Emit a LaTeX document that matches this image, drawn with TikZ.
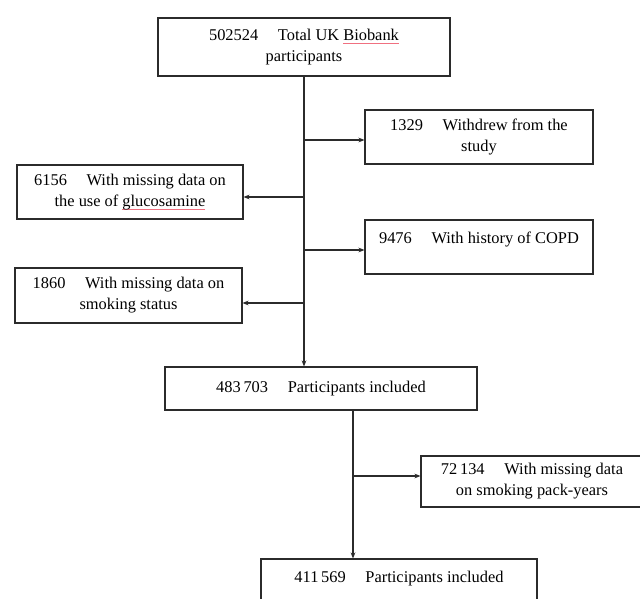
\documentclass[tikz,border=0pt]{standalone}
\usepackage{fontspec}
\setmainfont{Liberation Serif}
\usetikzlibrary{arrows.meta}
\definecolor{lineC}{HTML}{2B2B2B}
\definecolor{txtC}{HTML}{000000}
\definecolor{spellC}{HTML}{F07080}
\newcommand\spellul[1]{\setbox0\hbox{#1}\rlap{\textcolor{spellC}{\rule[-0.22em]{\wd0}{0.6pt}}}\box0}
\begin{document}
\begin{tikzpicture}[x=0.75pt,y=-0.75pt,
  boxst/.style={draw=lineC,line width=0.8pt,rectangle,inner sep=0pt,align=center,
    text=txtC,font=\fontsize{12.3pt}{15.75pt}\selectfont},
  arr/.style={draw=lineC,line width=0.8pt,-{Stealth[length=4.5pt,width=3.5pt]}}]
\useasboundingbox (0,0) rectangle (640,599);
\clip (0,0) rectangle (640,599);
\node[boxst,minimum width=219pt,minimum height=43.5pt] (top) at (304,47)
  {\raisebox{-1.5pt}{502524\hspace{1.2em}Total UK \spellul{Biobank}}\\\raisebox{-1.5pt}{participants}};
\node[boxst,minimum width=171pt,minimum height=40.5pt] (wd) at (479,137)
  {\raisebox{-1.5pt}{1329\hspace{1.2em}Withdrew from the}\\\raisebox{-1.5pt}{study}};
\node[boxst,minimum width=169.5pt,minimum height=40.5pt] (gl) at (130,192)
  {\raisebox{-1.5pt}{6156\hspace{1.2em}With missing data on}\\\raisebox{-1.5pt}{the use of \spellul{glucosamine}}};
\node[boxst,minimum width=171pt,minimum height=40.5pt] (copd) at (479,247)
  {\raisebox{-1.5pt}{9476\hspace{1.2em}With history of COPD}\\\mbox{}};
\node[boxst,minimum width=170.25pt,minimum height=41.25pt] (sm) at (128.5,295.5)
  {1860\hspace{1.2em}With missing data on\\smoking status};
\node[boxst,minimum width=234pt,minimum height=32.25pt] (inc1) at (321,388.5)
  {483\,703\hspace{1.2em}Participants included};
\node[boxst,minimum width=166.5pt,minimum height=38.25pt] (pk) at (532,481.5)
  {72\,134\hspace{1.2em}With missing data\\on smoking pack-years};
\node[boxst,minimum width=207pt,minimum height=40.5pt] (inc2) at (399,586)
  {\raisebox{-1.5pt}{411\,569\hspace{1.2em}Participants included}\\\mbox{}};
% connectors
\coordinate (b1) at (304,140);
\coordinate (b2) at (304,197);
\coordinate (b3) at (304,250);
\coordinate (b4) at (304,303);
\coordinate (c1) at (353,476);
\draw[arr] (top.south) -- (top.south |- inc1.north);
\draw[arr] (b1) -- (b1 -| wd.west);
\draw[arr] (b2) -- (b2 -| gl.east);
\draw[arr] (b3) -- (b3 -| copd.west);
\draw[arr] (b4) -- (b4 -| sm.east);
\draw[arr] (inc1.south -| c1) -- (inc2.north -| c1);
\draw[arr] (c1) -- (c1 -| pk.west);
\end{tikzpicture}
\end{document}
